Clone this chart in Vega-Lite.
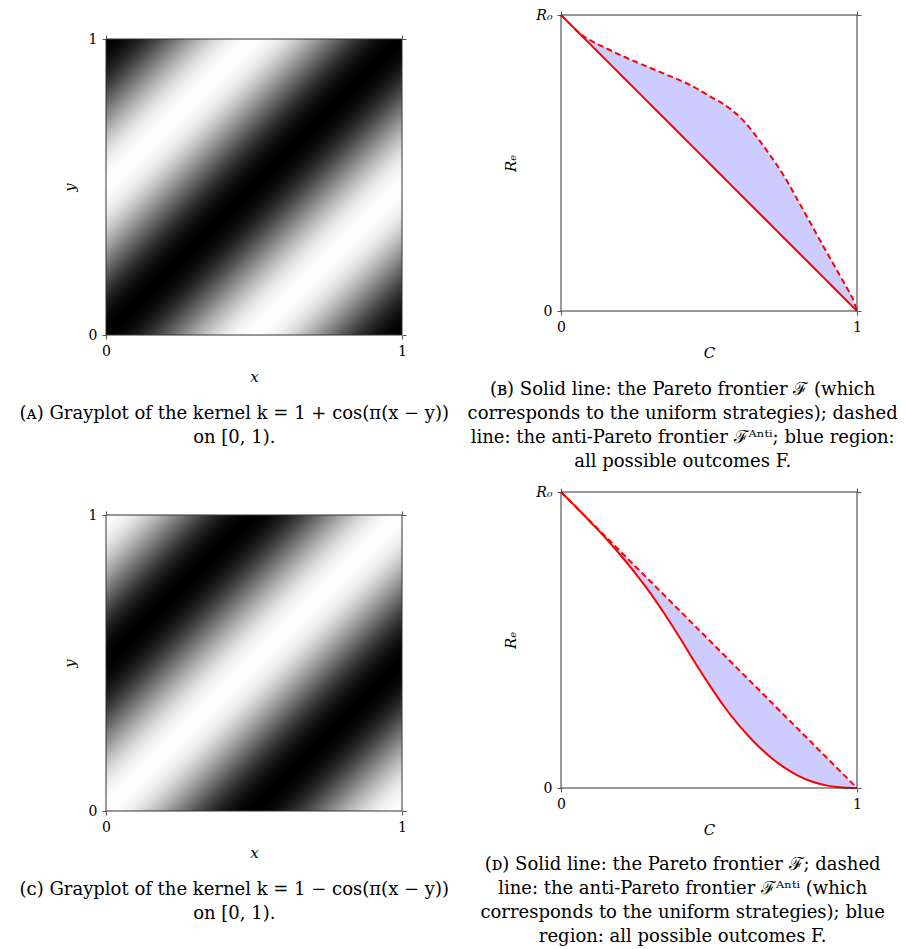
{
  "$schema": "https://vega.github.io/schema/vega-lite/v6.json",
  "background": "white",
  "padding": {"left": 19, "top": 8, "right": 5, "bottom": 5},
  "datasets": {
    "kernel": [
      {"x0":-1,"x1":0,"y0":0,"y1":1,"kp":2,"km":0},
      {"x0":-0.9875,"x1":0.0125,"y0":0,"y1":1,"kp":1.997,"km":0.003},
      {"x0":-0.975,"x1":0.025,"y0":0,"y1":1,"kp":1.988,"km":0.012},
      {"x0":-0.9625,"x1":0.0375,"y0":0,"y1":1,"kp":1.972,"km":0.028},
      {"x0":-0.95,"x1":0.05,"y0":0,"y1":1,"kp":1.951,"km":0.049},
      {"x0":-0.9375,"x1":0.0625,"y0":0,"y1":1,"kp":1.924,"km":0.076},
      {"x0":-0.925,"x1":0.075,"y0":0,"y1":1,"kp":1.891,"km":0.109},
      {"x0":-0.9125,"x1":0.0875,"y0":0,"y1":1,"kp":1.853,"km":0.147},
      {"x0":-0.9,"x1":0.1,"y0":0,"y1":1,"kp":1.809,"km":0.191},
      {"x0":-0.8875,"x1":0.1125,"y0":0,"y1":1,"kp":1.76,"km":0.24},
      {"x0":-0.875,"x1":0.125,"y0":0,"y1":1,"kp":1.707,"km":0.293},
      {"x0":-0.8625,"x1":0.1375,"y0":0,"y1":1,"kp":1.649,"km":0.351},
      {"x0":-0.85,"x1":0.15,"y0":0,"y1":1,"kp":1.588,"km":0.412},
      {"x0":-0.8375,"x1":0.1625,"y0":0,"y1":1,"kp":1.522,"km":0.478},
      {"x0":-0.825,"x1":0.175,"y0":0,"y1":1,"kp":1.454,"km":0.546},
      {"x0":-0.8125,"x1":0.1875,"y0":0,"y1":1,"kp":1.383,"km":0.617},
      {"x0":-0.8,"x1":0.2,"y0":0,"y1":1,"kp":1.309,"km":0.691},
      {"x0":-0.7875,"x1":0.2125,"y0":0,"y1":1,"kp":1.233,"km":0.767},
      {"x0":-0.775,"x1":0.225,"y0":0,"y1":1,"kp":1.156,"km":0.844},
      {"x0":-0.7625,"x1":0.2375,"y0":0,"y1":1,"kp":1.078,"km":0.922},
      {"x0":-0.75,"x1":0.25,"y0":0,"y1":1,"kp":1,"km":1},
      {"x0":-0.7375,"x1":0.2625,"y0":0,"y1":1,"kp":0.922,"km":1.078},
      {"x0":-0.725,"x1":0.275,"y0":0,"y1":1,"kp":0.844,"km":1.156},
      {"x0":-0.7125,"x1":0.2875,"y0":0,"y1":1,"kp":0.767,"km":1.233},
      {"x0":-0.7,"x1":0.3,"y0":0,"y1":1,"kp":0.691,"km":1.309},
      {"x0":-0.6875,"x1":0.3125,"y0":0,"y1":1,"kp":0.617,"km":1.383},
      {"x0":-0.675,"x1":0.325,"y0":0,"y1":1,"kp":0.546,"km":1.454},
      {"x0":-0.6625,"x1":0.3375,"y0":0,"y1":1,"kp":0.478,"km":1.522},
      {"x0":-0.65,"x1":0.35,"y0":0,"y1":1,"kp":0.412,"km":1.588},
      {"x0":-0.6375,"x1":0.3625,"y0":0,"y1":1,"kp":0.351,"km":1.649},
      {"x0":-0.625,"x1":0.375,"y0":0,"y1":1,"kp":0.293,"km":1.707},
      {"x0":-0.6125,"x1":0.3875,"y0":0,"y1":1,"kp":0.24,"km":1.76},
      {"x0":-0.6,"x1":0.4,"y0":0,"y1":1,"kp":0.191,"km":1.809},
      {"x0":-0.5875,"x1":0.4125,"y0":0,"y1":1,"kp":0.147,"km":1.853},
      {"x0":-0.575,"x1":0.425,"y0":0,"y1":1,"kp":0.109,"km":1.891},
      {"x0":-0.5625,"x1":0.4375,"y0":0,"y1":1,"kp":0.076,"km":1.924},
      {"x0":-0.55,"x1":0.45,"y0":0,"y1":1,"kp":0.049,"km":1.951},
      {"x0":-0.5375,"x1":0.4625,"y0":0,"y1":1,"kp":0.028,"km":1.972},
      {"x0":-0.525,"x1":0.475,"y0":0,"y1":1,"kp":0.012,"km":1.988},
      {"x0":-0.5125,"x1":0.4875,"y0":0,"y1":1,"kp":0.003,"km":1.997},
      {"x0":-0.5,"x1":0.5,"y0":0,"y1":1,"kp":0,"km":2},
      {"x0":-0.4875,"x1":0.5125,"y0":0,"y1":1,"kp":0.003,"km":1.997},
      {"x0":-0.475,"x1":0.525,"y0":0,"y1":1,"kp":0.012,"km":1.988},
      {"x0":-0.4625,"x1":0.5375,"y0":0,"y1":1,"kp":0.028,"km":1.972},
      {"x0":-0.45,"x1":0.55,"y0":0,"y1":1,"kp":0.049,"km":1.951},
      {"x0":-0.4375,"x1":0.5625,"y0":0,"y1":1,"kp":0.076,"km":1.924},
      {"x0":-0.425,"x1":0.575,"y0":0,"y1":1,"kp":0.109,"km":1.891},
      {"x0":-0.4125,"x1":0.5875,"y0":0,"y1":1,"kp":0.147,"km":1.853},
      {"x0":-0.4,"x1":0.6,"y0":0,"y1":1,"kp":0.191,"km":1.809},
      {"x0":-0.3875,"x1":0.6125,"y0":0,"y1":1,"kp":0.24,"km":1.76},
      {"x0":-0.375,"x1":0.625,"y0":0,"y1":1,"kp":0.293,"km":1.707},
      {"x0":-0.3625,"x1":0.6375,"y0":0,"y1":1,"kp":0.351,"km":1.649},
      {"x0":-0.35,"x1":0.65,"y0":0,"y1":1,"kp":0.412,"km":1.588},
      {"x0":-0.3375,"x1":0.6625,"y0":0,"y1":1,"kp":0.478,"km":1.522},
      {"x0":-0.325,"x1":0.675,"y0":0,"y1":1,"kp":0.546,"km":1.454},
      {"x0":-0.3125,"x1":0.6875,"y0":0,"y1":1,"kp":0.617,"km":1.383},
      {"x0":-0.3,"x1":0.7,"y0":0,"y1":1,"kp":0.691,"km":1.309},
      {"x0":-0.2875,"x1":0.7125,"y0":0,"y1":1,"kp":0.767,"km":1.233},
      {"x0":-0.275,"x1":0.725,"y0":0,"y1":1,"kp":0.844,"km":1.156},
      {"x0":-0.2625,"x1":0.7375,"y0":0,"y1":1,"kp":0.922,"km":1.078},
      {"x0":-0.25,"x1":0.75,"y0":0,"y1":1,"kp":1,"km":1},
      {"x0":-0.2375,"x1":0.7625,"y0":0,"y1":1,"kp":1.078,"km":0.922},
      {"x0":-0.225,"x1":0.775,"y0":0,"y1":1,"kp":1.156,"km":0.844},
      {"x0":-0.2125,"x1":0.7875,"y0":0,"y1":1,"kp":1.233,"km":0.767},
      {"x0":-0.2,"x1":0.8,"y0":0,"y1":1,"kp":1.309,"km":0.691},
      {"x0":-0.1875,"x1":0.8125,"y0":0,"y1":1,"kp":1.383,"km":0.617},
      {"x0":-0.175,"x1":0.825,"y0":0,"y1":1,"kp":1.454,"km":0.546},
      {"x0":-0.1625,"x1":0.8375,"y0":0,"y1":1,"kp":1.522,"km":0.478},
      {"x0":-0.15,"x1":0.85,"y0":0,"y1":1,"kp":1.588,"km":0.412},
      {"x0":-0.1375,"x1":0.8625,"y0":0,"y1":1,"kp":1.649,"km":0.351},
      {"x0":-0.125,"x1":0.875,"y0":0,"y1":1,"kp":1.707,"km":0.293},
      {"x0":-0.1125,"x1":0.8875,"y0":0,"y1":1,"kp":1.76,"km":0.24},
      {"x0":-0.1,"x1":0.9,"y0":0,"y1":1,"kp":1.809,"km":0.191},
      {"x0":-0.0875,"x1":0.9125,"y0":0,"y1":1,"kp":1.853,"km":0.147},
      {"x0":-0.075,"x1":0.925,"y0":0,"y1":1,"kp":1.891,"km":0.109},
      {"x0":-0.0625,"x1":0.9375,"y0":0,"y1":1,"kp":1.924,"km":0.076},
      {"x0":-0.05,"x1":0.95,"y0":0,"y1":1,"kp":1.951,"km":0.049},
      {"x0":-0.0375,"x1":0.9625,"y0":0,"y1":1,"kp":1.972,"km":0.028},
      {"x0":-0.025,"x1":0.975,"y0":0,"y1":1,"kp":1.988,"km":0.012},
      {"x0":-0.0125,"x1":0.9875,"y0":0,"y1":1,"kp":1.997,"km":0.003},
      {"x0":0,"x1":1,"y0":0,"y1":1,"kp":2,"km":0},
      {"x0":0.0125,"x1":1.0125,"y0":0,"y1":1,"kp":1.997,"km":0.003},
      {"x0":0.025,"x1":1.025,"y0":0,"y1":1,"kp":1.988,"km":0.012},
      {"x0":0.0375,"x1":1.0375,"y0":0,"y1":1,"kp":1.972,"km":0.028},
      {"x0":0.05,"x1":1.05,"y0":0,"y1":1,"kp":1.951,"km":0.049},
      {"x0":0.0625,"x1":1.0625,"y0":0,"y1":1,"kp":1.924,"km":0.076},
      {"x0":0.075,"x1":1.075,"y0":0,"y1":1,"kp":1.891,"km":0.109},
      {"x0":0.0875,"x1":1.0875,"y0":0,"y1":1,"kp":1.853,"km":0.147},
      {"x0":0.1,"x1":1.1,"y0":0,"y1":1,"kp":1.809,"km":0.191},
      {"x0":0.1125,"x1":1.1125,"y0":0,"y1":1,"kp":1.76,"km":0.24},
      {"x0":0.125,"x1":1.125,"y0":0,"y1":1,"kp":1.707,"km":0.293},
      {"x0":0.1375,"x1":1.1375,"y0":0,"y1":1,"kp":1.649,"km":0.351},
      {"x0":0.15,"x1":1.15,"y0":0,"y1":1,"kp":1.588,"km":0.412},
      {"x0":0.1625,"x1":1.1625,"y0":0,"y1":1,"kp":1.522,"km":0.478},
      {"x0":0.175,"x1":1.175,"y0":0,"y1":1,"kp":1.454,"km":0.546},
      {"x0":0.1875,"x1":1.1875,"y0":0,"y1":1,"kp":1.383,"km":0.617},
      {"x0":0.2,"x1":1.2,"y0":0,"y1":1,"kp":1.309,"km":0.691},
      {"x0":0.2125,"x1":1.2125,"y0":0,"y1":1,"kp":1.233,"km":0.767},
      {"x0":0.225,"x1":1.225,"y0":0,"y1":1,"kp":1.156,"km":0.844},
      {"x0":0.2375,"x1":1.2375,"y0":0,"y1":1,"kp":1.078,"km":0.922},
      {"x0":0.25,"x1":1.25,"y0":0,"y1":1,"kp":1,"km":1},
      {"x0":0.2625,"x1":1.2625,"y0":0,"y1":1,"kp":0.922,"km":1.078},
      {"x0":0.275,"x1":1.275,"y0":0,"y1":1,"kp":0.844,"km":1.156},
      {"x0":0.2875,"x1":1.2875,"y0":0,"y1":1,"kp":0.767,"km":1.233},
      {"x0":0.3,"x1":1.3,"y0":0,"y1":1,"kp":0.691,"km":1.309},
      {"x0":0.3125,"x1":1.3125,"y0":0,"y1":1,"kp":0.617,"km":1.383},
      {"x0":0.325,"x1":1.325,"y0":0,"y1":1,"kp":0.546,"km":1.454},
      {"x0":0.3375,"x1":1.3375,"y0":0,"y1":1,"kp":0.478,"km":1.522},
      {"x0":0.35,"x1":1.35,"y0":0,"y1":1,"kp":0.412,"km":1.588},
      {"x0":0.3625,"x1":1.3625,"y0":0,"y1":1,"kp":0.351,"km":1.649},
      {"x0":0.375,"x1":1.375,"y0":0,"y1":1,"kp":0.293,"km":1.707},
      {"x0":0.3875,"x1":1.3875,"y0":0,"y1":1,"kp":0.24,"km":1.76},
      {"x0":0.4,"x1":1.4,"y0":0,"y1":1,"kp":0.191,"km":1.809},
      {"x0":0.4125,"x1":1.4125,"y0":0,"y1":1,"kp":0.147,"km":1.853},
      {"x0":0.425,"x1":1.425,"y0":0,"y1":1,"kp":0.109,"km":1.891},
      {"x0":0.4375,"x1":1.4375,"y0":0,"y1":1,"kp":0.076,"km":1.924},
      {"x0":0.45,"x1":1.45,"y0":0,"y1":1,"kp":0.049,"km":1.951},
      {"x0":0.4625,"x1":1.4625,"y0":0,"y1":1,"kp":0.028,"km":1.972},
      {"x0":0.475,"x1":1.475,"y0":0,"y1":1,"kp":0.012,"km":1.988},
      {"x0":0.4875,"x1":1.4875,"y0":0,"y1":1,"kp":0.003,"km":1.997},
      {"x0":0.5,"x1":1.5,"y0":0,"y1":1,"kp":0,"km":2},
      {"x0":0.5125,"x1":1.5125,"y0":0,"y1":1,"kp":0.003,"km":1.997},
      {"x0":0.525,"x1":1.525,"y0":0,"y1":1,"kp":0.012,"km":1.988},
      {"x0":0.5375,"x1":1.5375,"y0":0,"y1":1,"kp":0.028,"km":1.972},
      {"x0":0.55,"x1":1.55,"y0":0,"y1":1,"kp":0.049,"km":1.951},
      {"x0":0.5625,"x1":1.5625,"y0":0,"y1":1,"kp":0.076,"km":1.924},
      {"x0":0.575,"x1":1.575,"y0":0,"y1":1,"kp":0.109,"km":1.891},
      {"x0":0.5875,"x1":1.5875,"y0":0,"y1":1,"kp":0.147,"km":1.853},
      {"x0":0.6,"x1":1.6,"y0":0,"y1":1,"kp":0.191,"km":1.809},
      {"x0":0.6125,"x1":1.6125,"y0":0,"y1":1,"kp":0.24,"km":1.76},
      {"x0":0.625,"x1":1.625,"y0":0,"y1":1,"kp":0.293,"km":1.707},
      {"x0":0.6375,"x1":1.6375,"y0":0,"y1":1,"kp":0.351,"km":1.649},
      {"x0":0.65,"x1":1.65,"y0":0,"y1":1,"kp":0.412,"km":1.588},
      {"x0":0.6625,"x1":1.6625,"y0":0,"y1":1,"kp":0.478,"km":1.522},
      {"x0":0.675,"x1":1.675,"y0":0,"y1":1,"kp":0.546,"km":1.454},
      {"x0":0.6875,"x1":1.6875,"y0":0,"y1":1,"kp":0.617,"km":1.383},
      {"x0":0.7,"x1":1.7,"y0":0,"y1":1,"kp":0.691,"km":1.309},
      {"x0":0.7125,"x1":1.7125,"y0":0,"y1":1,"kp":0.767,"km":1.233},
      {"x0":0.725,"x1":1.725,"y0":0,"y1":1,"kp":0.844,"km":1.156},
      {"x0":0.7375,"x1":1.7375,"y0":0,"y1":1,"kp":0.922,"km":1.078},
      {"x0":0.75,"x1":1.75,"y0":0,"y1":1,"kp":1,"km":1},
      {"x0":0.7625,"x1":1.7625,"y0":0,"y1":1,"kp":1.078,"km":0.922},
      {"x0":0.775,"x1":1.775,"y0":0,"y1":1,"kp":1.156,"km":0.844},
      {"x0":0.7875,"x1":1.7875,"y0":0,"y1":1,"kp":1.233,"km":0.767},
      {"x0":0.8,"x1":1.8,"y0":0,"y1":1,"kp":1.309,"km":0.691},
      {"x0":0.8125,"x1":1.8125,"y0":0,"y1":1,"kp":1.383,"km":0.617},
      {"x0":0.825,"x1":1.825,"y0":0,"y1":1,"kp":1.454,"km":0.546},
      {"x0":0.8375,"x1":1.8375,"y0":0,"y1":1,"kp":1.522,"km":0.478},
      {"x0":0.85,"x1":1.85,"y0":0,"y1":1,"kp":1.588,"km":0.412},
      {"x0":0.8625,"x1":1.8625,"y0":0,"y1":1,"kp":1.649,"km":0.351},
      {"x0":0.875,"x1":1.875,"y0":0,"y1":1,"kp":1.707,"km":0.293},
      {"x0":0.8875,"x1":1.8875,"y0":0,"y1":1,"kp":1.76,"km":0.24},
      {"x0":0.9,"x1":1.9,"y0":0,"y1":1,"kp":1.809,"km":0.191},
      {"x0":0.9125,"x1":1.9125,"y0":0,"y1":1,"kp":1.853,"km":0.147},
      {"x0":0.925,"x1":1.925,"y0":0,"y1":1,"kp":1.891,"km":0.109},
      {"x0":0.9375,"x1":1.9375,"y0":0,"y1":1,"kp":1.924,"km":0.076},
      {"x0":0.95,"x1":1.95,"y0":0,"y1":1,"kp":1.951,"km":0.049},
      {"x0":0.9625,"x1":1.9625,"y0":0,"y1":1,"kp":1.972,"km":0.028},
      {"x0":0.975,"x1":1.975,"y0":0,"y1":1,"kp":1.988,"km":0.012},
      {"x0":0.9875,"x1":1.9875,"y0":0,"y1":1,"kp":1.997,"km":0.003},
      {"x0":1,"x1":2,"y0":0,"y1":1,"kp":2,"km":0}
    ],
    "frontierB": [
      {"C":0,"pareto":1,"anti":1},
      {"C":0.03,"pareto":0.97,"anti":0.97},
      {"C":0.064,"pareto":0.936,"anti":0.937},
      {"C":0.1,"pareto":0.9,"anti":0.914},
      {"C":0.15,"pareto":0.85,"anti":0.889},
      {"C":0.211,"pareto":0.789,"anti":0.86},
      {"C":0.29,"pareto":0.71,"anti":0.826},
      {"C":0.36,"pareto":0.64,"anti":0.797},
      {"C":0.437,"pareto":0.563,"anti":0.763},
      {"C":0.505,"pareto":0.495,"anti":0.724},
      {"C":0.573,"pareto":0.427,"anti":0.682},
      {"C":0.618,"pareto":0.382,"anti":0.641},
      {"C":0.663,"pareto":0.337,"anti":0.586},
      {"C":0.708,"pareto":0.292,"anti":0.524},
      {"C":0.754,"pareto":0.246,"anti":0.455},
      {"C":0.799,"pareto":0.201,"anti":0.376},
      {"C":0.844,"pareto":0.156,"anti":0.295},
      {"C":0.889,"pareto":0.111,"anti":0.214},
      {"C":0.934,"pareto":0.066,"anti":0.134},
      {"C":0.968,"pareto":0.032,"anti":0.074},
      {"C":0.987,"pareto":0.013,"anti":0.038},
      {"C":1,"pareto":0,"anti":0}
    ],
    "frontierD": [
      {"C":0,"pareto":1,"anti":1},
      {"C":0.05,"pareto":0.95,"anti":0.95},
      {"C":0.1,"pareto":0.898,"anti":0.9},
      {"C":0.15,"pareto":0.845,"anti":0.85},
      {"C":0.2,"pareto":0.788,"anti":0.8},
      {"C":0.25,"pareto":0.727,"anti":0.75},
      {"C":0.3,"pareto":0.661,"anti":0.7},
      {"C":0.35,"pareto":0.588,"anti":0.65},
      {"C":0.4,"pareto":0.51,"anti":0.6},
      {"C":0.45,"pareto":0.428,"anti":0.55},
      {"C":0.5,"pareto":0.35,"anti":0.5},
      {"C":0.55,"pareto":0.277,"anti":0.45},
      {"C":0.6,"pareto":0.213,"anti":0.4},
      {"C":0.65,"pareto":0.158,"anti":0.35},
      {"C":0.7,"pareto":0.111,"anti":0.3},
      {"C":0.75,"pareto":0.072,"anti":0.25},
      {"C":0.8,"pareto":0.042,"anti":0.2},
      {"C":0.85,"pareto":0.021,"anti":0.15},
      {"C":0.9,"pareto":0.008,"anti":0.1},
      {"C":0.95,"pareto":0.002,"anti":0.05},
      {"C":1,"pareto":0,"anti":0}
    ]
  },
  "vconcat": [
    {
      "hconcat": [
        {
          "width": 296,
          "height": 296,
          "title": {"text": ["(ᴀ) Grayplot of the kernel k = 1 + cos(π(x − y))", "on [0, 1)."]},
          "layer": [
            {
              "data": {"name": "kernel"},
              "mark": {"type": "rule", "clip": true, "strokeWidth": 4, "strokeCap": "square"},
              "encoding": {
                "x": {"field": "x0", "type": "quantitative", "scale": {"domain": [0, 1], "nice": false, "zero": false}, "axis": {"orient": "bottom", "values": [0, 1], "title": "x"}},
                "x2": {"field": "x1"},
                "y": {"field": "y0", "type": "quantitative", "scale": {"domain": [0, 1], "nice": false, "zero": false}, "axis": {"orient": "left", "values": [0, 1], "title": "y"}},
                "y2": {"field": "y1"},
                "color": {"field": "kp", "type": "quantitative", "scale": {"domain": [0, 2], "range": ["#ffffff", "#000000"], "interpolate": "rgb"}, "legend": null}
              }
            },
            {
              "data": {"values": [{}]},
              "mark": {"type": "rect", "fillOpacity": 0, "stroke": "#333333", "strokeWidth": 1},
              "encoding": {
                "x": {"datum": 0, "type": "quantitative", "axis": {"orient": "top", "values": [0, 1], "labels": false, "title": null}},
                "x2": {"datum": 1},
                "y": {"datum": 0, "type": "quantitative", "axis": {"orient": "right", "values": [0, 1], "labels": false, "title": null}},
                "y2": {"datum": 1}
              }
            }
          ],
          "resolve": {"axis": {"x": "independent", "y": "independent"}}
        },
        {
          "width": 296,
          "height": 296,
          "title": {"text": ["(ʙ) Solid line: the Pareto frontier ℱ (which", "corresponds to the uniform strategies); dashed", "line: the anti-Pareto frontier ℱᴬⁿᵗⁱ; blue region:", "all possible outcomes F."]},
          "layer": [
            {
              "data": {"name": "frontierB"},
              "mark": {"type": "area", "interpolate": "monotone", "color": "#ccccff"},
              "encoding": {
                "x": {"field": "C", "type": "quantitative", "scale": {"domain": [0, 1], "nice": false, "zero": false}, "axis": {"orient": "bottom", "values": [0, 1], "title": "C"}},
                "y": {"field": "pareto", "type": "quantitative", "scale": {"domain": [0, 1], "nice": false, "zero": false}, "axis": {"orient": "left", "values": [0, 1], "title": "Rₑ", "titlePadding": 17, "labelExpr": "datum.value == 1 ? 'R₀' : '0'", "labelFontStyle": {"condition": {"test": "datum.value == 1", "value": "italic"}, "value": "normal"}}},
                "y2": {"field": "anti"}
              }
            },
            {
              "data": {"name": "frontierB"},
              "mark": {"type": "line", "interpolate": "monotone", "color": "#ff0000", "strokeWidth": 2},
              "encoding": {
                "x": {"field": "C", "type": "quantitative", "axis": null},
                "y": {"field": "pareto", "type": "quantitative", "axis": null}
              }
            },
            {
              "data": {"name": "frontierB"},
              "mark": {"type": "line", "interpolate": "monotone", "color": "#ff0000", "strokeWidth": 2, "strokeDash": [6, 3.5]},
              "encoding": {
                "x": {"field": "C", "type": "quantitative", "axis": null},
                "y": {"field": "anti", "type": "quantitative", "axis": null}
              }
            },
            {
              "data": {"values": [{}]},
              "mark": {"type": "rect", "fillOpacity": 0, "stroke": "#333333", "strokeWidth": 1},
              "encoding": {
                "x": {"datum": 0, "type": "quantitative", "axis": {"orient": "top", "values": [0, 1], "labels": false, "title": null}},
                "x2": {"datum": 1},
                "y": {"datum": 0, "type": "quantitative", "axis": {"orient": "right", "values": [0, 1], "labels": false, "title": null}},
                "y2": {"datum": 1}
              }
            }
          ],
          "resolve": {"axis": {"x": "independent", "y": "independent"}}
        }
      ],
      "center": true,
      "bounds": "full",
      "spacing": 17
    },
    {
      "hconcat": [
        {
          "width": 296,
          "height": 296,
          "title": {"text": ["(ᴄ) Grayplot of the kernel k = 1 − cos(π(x − y))", "on [0, 1)."]},
          "layer": [
            {
              "data": {"name": "kernel"},
              "mark": {"type": "rule", "clip": true, "strokeWidth": 4, "strokeCap": "square"},
              "encoding": {
                "x": {"field": "x0", "type": "quantitative", "scale": {"domain": [0, 1], "nice": false, "zero": false}, "axis": {"orient": "bottom", "values": [0, 1], "title": "x"}},
                "x2": {"field": "x1"},
                "y": {"field": "y0", "type": "quantitative", "scale": {"domain": [0, 1], "nice": false, "zero": false}, "axis": {"orient": "left", "values": [0, 1], "title": "y"}},
                "y2": {"field": "y1"},
                "color": {"field": "km", "type": "quantitative", "scale": {"domain": [0, 2], "range": ["#ffffff", "#000000"], "interpolate": "rgb"}, "legend": null}
              }
            },
            {
              "data": {"values": [{}]},
              "mark": {"type": "rect", "fillOpacity": 0, "stroke": "#333333", "strokeWidth": 1},
              "encoding": {
                "x": {"datum": 0, "type": "quantitative", "axis": {"orient": "top", "values": [0, 1], "labels": false, "title": null}},
                "x2": {"datum": 1},
                "y": {"datum": 0, "type": "quantitative", "axis": {"orient": "right", "values": [0, 1], "labels": false, "title": null}},
                "y2": {"datum": 1}
              }
            }
          ],
          "resolve": {"axis": {"x": "independent", "y": "independent"}}
        },
        {
          "width": 296,
          "height": 296,
          "title": {"text": ["(ᴅ) Solid line: the Pareto frontier ℱ; dashed", "line: the anti-Pareto frontier ℱᴬⁿᵗⁱ (which", "corresponds to the uniform strategies); blue", "region: all possible outcomes F."], "offset": 19},
          "layer": [
            {
              "data": {"name": "frontierD"},
              "mark": {"type": "area", "interpolate": "monotone", "color": "#ccccff"},
              "encoding": {
                "x": {"field": "C", "type": "quantitative", "scale": {"domain": [0, 1], "nice": false, "zero": false}, "axis": {"orient": "bottom", "values": [0, 1], "title": "C"}},
                "y": {"field": "pareto", "type": "quantitative", "scale": {"domain": [0, 1], "nice": false, "zero": false}, "axis": {"orient": "left", "values": [0, 1], "title": "Rₑ", "titlePadding": 17, "labelExpr": "datum.value == 1 ? 'R₀' : '0'", "labelFontStyle": {"condition": {"test": "datum.value == 1", "value": "italic"}, "value": "normal"}}},
                "y2": {"field": "anti"}
              }
            },
            {
              "data": {"name": "frontierD"},
              "mark": {"type": "line", "interpolate": "monotone", "color": "#ff0000", "strokeWidth": 2},
              "encoding": {
                "x": {"field": "C", "type": "quantitative", "axis": null},
                "y": {"field": "pareto", "type": "quantitative", "axis": null}
              }
            },
            {
              "data": {"name": "frontierD"},
              "mark": {"type": "line", "interpolate": "monotone", "color": "#ff0000", "strokeWidth": 2, "strokeDash": [6, 3.5]},
              "encoding": {
                "x": {"field": "C", "type": "quantitative", "axis": null},
                "y": {"field": "anti", "type": "quantitative", "axis": null}
              }
            },
            {
              "data": {"values": [{}]},
              "mark": {"type": "rect", "fillOpacity": 0, "stroke": "#333333", "strokeWidth": 1},
              "encoding": {
                "x": {"datum": 0, "type": "quantitative", "axis": {"orient": "top", "values": [0, 1], "labels": false, "title": null}},
                "x2": {"datum": 1},
                "y": {"datum": 0, "type": "quantitative", "axis": {"orient": "right", "values": [0, 1], "labels": false, "title": null}},
                "y2": {"datum": 1}
              }
            }
          ],
          "resolve": {"axis": {"x": "independent", "y": "independent"}}
        }
      ],
      "center": true,
      "bounds": "full",
      "spacing": 30
    }
  ],
  "spacing": 14,
  "config": {
    "view": {"stroke": null},
    "font": "DejaVu Serif",
    "axis": {
      "domain": false,
      "grid": false,
      "ticks": true,
      "tickColor": "#555555",
      "tickSize": 4,
      "tickWidth": 1,
      "format": "d",
      "labelFont": "DejaVu Serif",
      "labelFontSize": 14,
      "labelColor": "#000000",
      "labelPadding": 5,
      "labelFlush": false,
      "titleFont": "DejaVu Serif",
      "titleFontSize": 15,
      "titleFontStyle": "italic",
      "titleFontWeight": "normal",
      "titleColor": "#000000",
      "titlePadding": 11
    },
    "title": {
      "orient": "bottom",
      "anchor": "middle",
      "frame": "bounds",
      "font": "DejaVu Serif",
      "fontSize": 18,
      "fontWeight": "normal",
      "lineHeight": 24,
      "offset": 21,
      "color": "#000000"
    }
  }
}
